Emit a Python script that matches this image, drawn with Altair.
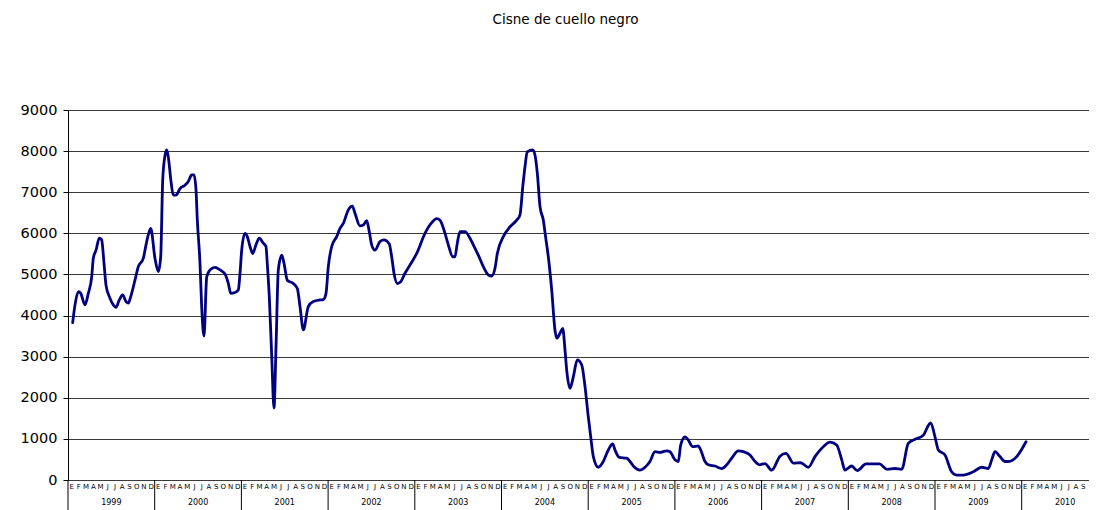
import altair as alt
import pandas as pd

# months since Jan 1999 (fractional), and counts
t = [0.65, 0.97, 1.43, 1.76, 2.35, 2.81, 3.28, 3.50, 3.88, 4.33, 4.66, 4.98, 5.26, 5.72, 6.27, 6.64,
     7.10, 7.57, 8.03, 8.35, 8.68, 9.27, 9.73, 10.42, 10.80, 11.11, 11.45, 12.04, 12.50, 12.83, 13.11,
     13.43, 13.66, 13.88, 14.26, 14.57, 14.95, 15.50, 16.19, 16.65, 17.12, 17.44, 17.72, 17.90, 18.27,
     18.50, 18.82, 19.20, 19.65, 20.35, 21.04, 21.73, 22.19, 22.52, 23.11, 23.57, 23.81, 24.04, 24.50,
     24.82, 25.19, 25.56, 26.02, 26.48, 27.03, 27.40, 27.58, 27.86, 28.20, 28.51, 28.80, 29.11, 29.58,
     29.90, 30.35, 31.18, 31.74, 32.11, 32.57, 33.26, 33.95, 34.88, 35.34, 35.71, 36.03, 36.50, 37.19,
     37.65, 38.10, 38.80, 39.35, 39.72, 40.42, 40.87, 41.34, 41.70, 42.03, 42.49, 43.18, 43.74, 44.47,
     44.80, 45.12, 45.58, 46.05, 46.64, 47.34, 48.26, 49.41, 50.34, 51.03, 51.49, 52.18, 52.64, 53.25,
     53.56, 53.88, 54.26, 54.95, 55.64, 56.10, 56.79, 57.48, 58.17, 58.64, 59.10, 59.42, 60.25, 61.18,
     62.10, 62.56, 62.94, 63.25, 63.57, 64.32, 64.64, 64.96, 65.33, 65.79, 66.16, 66.48, 66.95, 67.40,
     67.64, 68.10, 68.47, 68.79, 69.02, 69.48, 69.94, 70.49, 71.10, 71.56, 72.01, 72.35, 72.71, 73.40,
     74.09, 74.78, 75.39, 75.71, 76.30, 77.33, 77.79, 78.34, 79.17, 79.86, 80.55, 81.25, 81.94, 82.86,
     83.32, 84.01, 84.47, 84.80, 85.40, 85.86, 86.46, 87.24, 87.57, 88.17, 88.62, 89.55, 90.48, 91.17,
     91.86, 92.77, 93.47, 94.39, 95.09, 95.68, 96.47, 97.40, 98.55, 99.38, 100.39, 101.41, 102.46,
     103.39, 104.54, 105.47, 106.39, 107.09, 107.54, 108.47, 109.25, 110.45, 111.46, 112.29, 113.40,
     114.46, 115.39, 116.30, 117.23, 118.38, 119.40, 120.00, 120.46, 121.38, 122.30, 122.99, 123.92,
     125.30, 126.46, 127.38, 127.85, 128.30, 128.99, 129.69, 130.15, 131.31, 132.01, 132.60]
v = [3830, 4260, 4580, 4540, 4260, 4540, 4940, 5390, 5590, 5880, 5840, 5280, 4740, 4460, 4260, 4200,
     4380, 4500, 4340, 4300, 4460, 4860, 5190, 5390, 5720, 5960, 6120, 5390, 5070, 5430, 7300,
     7900, 8030, 7860, 7260, 6930, 6930, 7090, 7170, 7260, 7420, 7420, 7050, 6320, 5270,
     4220, 3500, 4940, 5110, 5170, 5110, 5010, 4780, 4540, 4560, 4620, 5030, 5590, 6000,
     5920, 5680, 5510, 5720, 5880, 5760, 5680, 5270, 4460, 3000, 1750, 3300, 5110, 5470,
     5270, 4860, 4780, 4660, 4220, 3650, 4220, 4340, 4380, 4390, 4540, 5190, 5680, 5920,
     6120, 6240, 6570, 6660, 6490, 6180, 6200, 6310, 6040, 5720, 5590, 5800, 5840, 5740,
     5430, 5030, 4780, 4820, 5030, 5230, 5510, 6000, 6260, 6360, 6320, 6000, 5720, 5430,
     5430, 5760, 6040, 6040, 5880, 5720, 5470, 5190, 4990, 4960, 5150, 5510, 5920, 6160,
     6320, 6450, 7130, 7620, 7980, 8030, 7900, 7460, 6650, 6320, 5840, 5430, 4620, 3650,
     3450, 3570, 3690, 3160, 2680, 2230, 2510, 2920, 2800, 2270, 1540, 1050, 570, 310,
     450, 730, 880, 730, 550, 530, 450, 320, 240, 310, 450, 690, 670, 710,
     690, 490, 450, 850, 1050, 970, 810, 830, 730, 450, 370, 340, 280, 370,
     530, 710, 690, 610, 450, 370, 400, 240, 580, 650, 410, 420, 310,
     570, 810, 920, 850, 490, 240, 340, 230, 390, 390, 390, 260,
     280, 260, 890, 990, 1090, 1390, 1050, 730, 610, 200, 120, 120,
     200, 310, 280, 490, 690, 570, 450, 450, 570, 750, 930]

month_letters = ["E", "F", "M", "A", "M", "J", "J", "A", "S", "O", "N", "D"]
years = ["1999", "2000", "2001", "2002", "2003", "2004", "2005", "2006", "2007", "2008", "2009", "2010"]
y_ticks = [0, 1000, 2000, 3000, 4000, 5000, 6000, 7000, 8000, 9000]

MONTH_PX = 7.225
W, H = 1021, 370
XMAX = W / MONTH_PX  # visible part of the month axis (the original is cut at the right)
NM = 12 * len(years)

series = pd.DataFrame({"t": t, "v": v})
months = pd.DataFrame({
    "mpos": [i + 0.5 for i in range(NM)],
    "letter": [month_letters[i % 12] for i in range(NM)],
})
months = months[months["mpos"] < XMAX - 0.3]
year_df = pd.DataFrame({
    "ystart": [12 * i for i in range(len(years))],
    "ymid": [12 * i + 6 for i in range(len(years))],
    "year": years,
})

xscale = alt.Scale(domain=[0, XMAX], nice=False, zero=False)
FONT = "DejaVu Sans"
tick_vals = [m for m in range(0, NM + 1) if m <= XMAX]

line = alt.Chart(series).mark_line(color="#000080", strokeWidth=2.8, interpolate="monotone",
                                   strokeJoin="round", strokeCap="round").encode(
    x=alt.X("t:Q", scale=xscale,
            axis=alt.Axis(values=tick_vals, tickSize=12, labels=False, title=None,
                          grid=False, domainColor="black", tickColor="black", tickWidth=1)),
    y=alt.Y("v:Q", scale=alt.Scale(domain=[0, 9000], nice=False),
            axis=alt.Axis(values=y_ticks, format="d", title=None, tickSize=5, labelFontSize=14.5,
                          labelFont=FONT, labelColor="black", labelPadding=6, gridColor="#3a3a3a",
                          gridWidth=1, domainColor="black", tickColor="black")),
)

month_text = alt.Chart(months).mark_text(fontSize=7, font=FONT, color="black", baseline="middle").encode(
    x=alt.X("mpos:Q", scale=xscale, axis=None),
    y=alt.value(H + 7),
    text="letter:N",
)

year_rules = alt.Chart(year_df).mark_rule(color="black", strokeWidth=1).encode(
    x=alt.X("ystart:Q", scale=xscale, axis=None),
    y=alt.value(H),
    y2=alt.value(H + 32),
)

year_text = alt.Chart(year_df).mark_text(fontSize=8, font=FONT, color="black", baseline="middle").encode(
    x=alt.X("ymid:Q", scale=xscale, axis=None),
    y=alt.value(H + 23),
    text="year:N",
)

chart = alt.layer(line, month_text, year_rules, year_text).properties(
    width=W, height=H,
    autosize=alt.AutoSizeParams(type="none"),
    padding={"left": 60, "top": 102, "right": 0, "bottom": 30},
    title=alt.Title("Cisne de cuello negro", fontSize=13.5, font=FONT, fontWeight="normal",
                    anchor="middle", offset=76, dx=-13, color="black"),
).configure_view(stroke=None)

chart.save("out.html", embed_options={"renderer": "svg", "actions": False})
